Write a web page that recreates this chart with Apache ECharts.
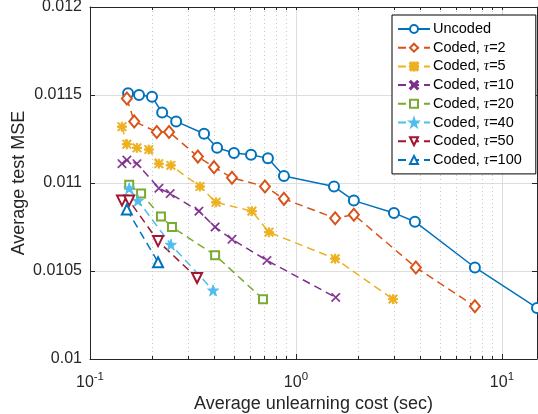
<!DOCTYPE html>
<html>
<head>
<meta charset="utf-8">
<script src="https://cdn.jsdelivr.net/npm/echarts@6.0.0/dist/echarts.min.js"></script>
<style>
  html, body { margin: 0; padding: 0; background: #fff; }
  #chart { width: 538px; height: 414px; }
</style>
</head>
<body>
<div id="chart"></div>
<script>
// values (cost in sec, test MSE)
const uncodedCost = [0.153, 0.173, 0.200, 0.224, 0.262, 0.358, 0.414, 0.500, 0.605, 0.731, 0.874, 1.53, 1.91, 2.99, 3.78, 7.39, 14.8];
const uncodedMse = [0.01151, 0.01150, 0.01149, 0.01140, 0.01135, 0.01128, 0.01120, 0.01117, 0.01116, 0.01114, 0.01104, 0.01098, 0.01090, 0.01083, 0.01078, 0.01052, 0.01029];

const tau2Cost = [0.151, 0.164, 0.211, 0.242, 0.334, 0.400, 0.489, 0.707, 0.874, 1.55, 1.91, 3.82, 7.39];
const tau2Mse = [0.01148, 0.01135, 0.01129, 0.01129, 0.01115, 0.01109, 0.01103, 0.01098, 0.01091, 0.01080, 0.01082, 0.01052, 0.01030];

const tau5Cost = [0.143, 0.151, 0.169, 0.193, 0.216, 0.247, 0.342, 0.409, 0.611, 0.740, 1.55, 2.96];
const tau5Mse = [0.01132, 0.01122, 0.01120, 0.01119, 0.01111, 0.01110, 0.01098, 0.01089, 0.01084, 0.01072, 0.01057, 0.01034];

const tau10Cost = [0.143, 0.151, 0.169, 0.216, 0.245, 0.338, 0.405, 0.489, 0.723, 1.56];
const tau10Mse = [0.01111, 0.01113, 0.01111, 0.01097, 0.01094, 0.01084, 0.01075, 0.01068, 0.01056, 0.01035];

const tau20Cost = [0.155, 0.177, 0.221, 0.250, 0.405, 0.692];
const tau20Mse = [0.01099, 0.01094, 0.01081, 0.01075, 0.01059, 0.01034];

const tau40Cost = [0.155, 0.171, 0.247, 0.396];
const tau40Mse = [0.01097, 0.01090, 0.01065, 0.01039];

const tau50Cost = [0.143, 0.155, 0.214, 0.331];
const tau50Mse = [0.01090, 0.01090, 0.01067, 0.01046];

const tau100Cost = [0.151, 0.214];
const tau100Mse = [0.01085, 0.01055];

const majorTicks = [0.1, 1, 10];
const minorTicks = [0.2, 0.3, 0.4, 0.5, 0.6, 0.7, 0.8, 0.9, 2, 3, 4, 5, 6, 7, 8, 9];

// marker shapes
const xMark = 'path://M0,1 L1,0 L5,4 L9,0 L10,1 L6,5 L10,9 L9,10 L5,6 L1,10 L0,9 L4,5 Z';
const starMark = 'path://M0,1 L1,0 L5,4 L9,0 L10,1 L6,5 L10,9 L9,10 L5,6 L1,10 L0,9 L4,5 Z ' +
  'M4.2,0 L5.8,0 L5.8,4.2 L10,4.2 L10,5.8 L5.8,5.8 L5.8,10 L4.2,10 L4.2,5.8 L0,5.8 L0,4.2 L4.2,4.2 Z';
const pentagram = 'path://M5,0 L6.2,3.6 L10,3.6 L6.9,5.9 L8.1,9.5 L5,7.3 L1.9,9.5 L3.1,5.9 L0,3.6 L3.8,3.6 Z';

const font = 'Liberation Sans, Arial, Helvetica, sans-serif';
const axisColor = '#262626';

function pairs(xs, ys) {
  return xs.map((x, i) => [x, ys[i]]);
}

function mk(name, xs, ys, color, symbol, size, dashed, extra) {
  return Object.assign({
    name: name,
    type: 'line',
    data: pairs(xs, ys),
    symbol: symbol,
    symbolSize: size,
    showAllSymbol: true,
    lineStyle: { color: color, width: 1.5, type: dashed ? [8, 5] : 'solid' },
    itemStyle: { color: color, borderColor: color, borderWidth: 1.5 },
    emphasis: { disabled: true },
    animation: false
  }, extra || {});
}

const series = [
  mk('Uncoded', uncodedCost, uncodedMse, '#0072BD', 'emptyCircle', 10, false),
  mk('Coded, τ=2', tau2Cost, tau2Mse, '#D95319', 'emptyDiamond', [10, 12], true),
  mk('Coded, τ=5', tau5Cost, tau5Mse, '#EDB120', starMark, 9, true, { itemStyle: { color: '#EDB120', borderColor: '#EDB120', borderWidth: 1 } }),
  mk('Coded, τ=10', tau10Cost, tau10Mse, '#7E2F8E', xMark, 9, true, { itemStyle: { color: '#7E2F8E', borderColor: '#7E2F8E', borderWidth: 0.5 } }),
  mk('Coded, τ=20', tau20Cost, tau20Mse, '#77AC30', 'emptyRect', 8, true),
  mk('Coded, τ=40', tau40Cost, tau40Mse, '#4DBEEE', pentagram, 11, true, { itemStyle: { color: '#4DBEEE', borderColor: '#4DBEEE', borderWidth: 1 } }),
  mk('Coded, τ=50', tau50Cost, tau50Mse, '#A2142F', 'emptyTriangle', 10, true, { symbolRotate: 180 }),
  mk('Coded, τ=100', tau100Cost, tau100Mse, '#0072BD', 'emptyTriangle', 10, true)
];

const chart = echarts.init(document.getElementById('chart'), null, { renderer: 'canvas' });

chart.setOption({
  backgroundColor: '#fff',
  animation: false,
  grid: { left: 90, right: 1, top: 7, bottom: 55, show: false, containLabel: false, outerBoundsMode: 'none' },
  legend: {
    orient: 'vertical',
    left: 392,
    top: 15,
    padding: [6, 14, 6, 5],
    itemGap: 2.7,
    itemWidth: 32,
    itemHeight: 10,
    backgroundColor: '#fff',
    borderColor: '#000',
    borderWidth: 1,
    borderRadius: 0,
    selectedMode: false,
    formatter: name => name.replace('τ', '{i|τ}'),
    textStyle: {
      fontFamily: font,
      fontSize: 14.5,
      lineHeight: 16,
      color: '#000',
      padding: [0, 0, 0, -2],
      rich: {
        i: { fontFamily: 'Liberation Serif, DejaVu Serif, serif', fontStyle: 'italic', fontSize: 15, lineHeight: 16, color: '#000' }
      }
    },
    data: series.map(s => s.name)
  },
  xAxis: [
    {
      type: 'log',
      logBase: 10,
      min: 0.1,
      max: 14.8,
      position: 'bottom',
      name: 'Average unlearning cost (sec)',
      nameLocation: 'middle',
      nameGap: 36,
      nameMoveOverlap: false,
      nameTextStyle: { fontFamily: font, fontSize: 18, color: axisColor },
      axisLine: { show: true, onZero: false, lineStyle: { color: axisColor, width: 1 } },
      axisTick: { show: true, inside: true, length: 5, customValues: majorTicks, lineStyle: { color: axisColor } },
      axisLabel: {
        customValues: majorTicks,
        margin: 12,
        formatter: v => '{b|10}{s|' + Math.round(Math.log10(v)) + '}',
        rich: {
          b: { fontFamily: font, fontSize: 16, color: axisColor, lineHeight: 20, verticalAlign: 'bottom' },
          s: { fontFamily: font, fontSize: 11.5, color: axisColor, lineHeight: 20, verticalAlign: 'top' }
        }
      },
      splitLine: { show: true, lineStyle: { color: '#dedede', width: 1 } }
    },
    {
      type: 'log',
      logBase: 10,
      min: 0.1,
      max: 14.8,
      position: 'bottom',
      axisLine: { show: false },
      axisTick: { show: true, inside: true, length: 3, customValues: minorTicks, lineStyle: { color: axisColor } },
      axisLabel: { show: false },
      splitLine: { show: true, lineStyle: { color: '#c8c8c8', width: 1, type: [1, 3] } }
    },
    {
      type: 'log',
      logBase: 10,
      min: 0.1,
      max: 14.8,
      position: 'top',
      axisLine: { show: true, onZero: false, lineStyle: { color: axisColor, width: 1 } },
      axisTick: { show: true, inside: true, length: 3, customValues: majorTicks.concat(minorTicks), lineStyle: { color: axisColor } },
      axisLabel: { show: false },
      splitLine: { show: false }
    }
  ],
  yAxis: [
    {
      type: 'value',
      min: 0.01,
      max: 0.012,
      interval: 0.0005,
      position: 'left',
      name: 'Average test MSE',
      nameLocation: 'middle',
      nameRotate: 90,
      nameGap: 62,
      nameMoveOverlap: false,
      nameTextStyle: { fontFamily: font, fontSize: 18, color: axisColor },
      axisLine: { show: true, onZero: false, lineStyle: { color: axisColor, width: 1 } },
      axisTick: { show: true, inside: true, length: 5, lineStyle: { color: axisColor } },
      axisLabel: {
        margin: 8,
        fontFamily: font,
        fontSize: 16,
        color: axisColor,
        formatter: v => String(+v.toFixed(5))
      },
      splitLine: { show: true, lineStyle: { color: '#dedede', width: 1 } }
    },
    {
      type: 'value',
      min: 0.01,
      max: 0.012,
      interval: 0.0005,
      position: 'right',
      axisLine: { show: true, onZero: false, lineStyle: { color: axisColor, width: 1 } },
      axisTick: { show: true, inside: true, length: 5, lineStyle: { color: axisColor } },
      axisLabel: { show: false },
      splitLine: { show: false }
    }
  ],
  series: series
});
</script>
</body>
</html>
